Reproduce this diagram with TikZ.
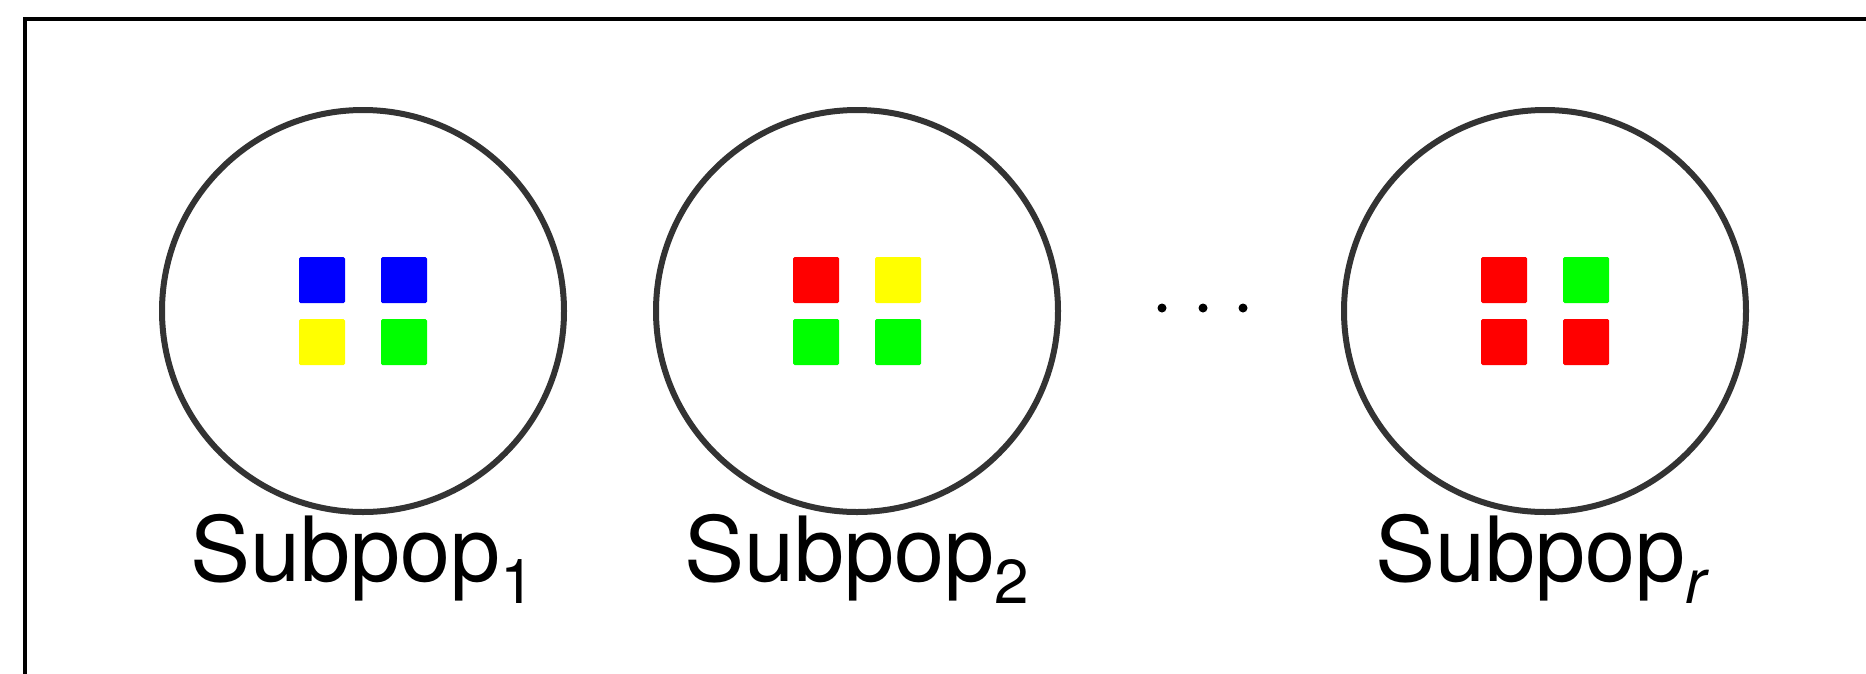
\documentclass[tikz,border=0pt]{standalone}
\usepackage{fontspec}
\setmainfont{TeX Gyre Heros}
\definecolor{ringgray}{HTML}{333333}
\definecolor{cblue}{RGB}{0,0,255}
\definecolor{cyellow}{RGB}{255,255,0}
\definecolor{cgreen}{RGB}{0,255,0}
\definecolor{cred}{RGB}{255,0,0}
\newcommand{\subsc}[1]{\raisebox{-22pt}{\fontsize{62}{70}\selectfont #1}}
\tikzset{
  ring/.style={circle, draw=ringgray, line width=6pt, minimum size=402pt, inner sep=0pt},
  cell/.style={rectangle, rounded corners=1.5pt, minimum size=46pt, inner sep=0pt, draw=none},
  poplabel/.style={anchor=base west, inner sep=0pt, font=\fontsize{90}{100}\selectfont},
  dot/.style={circle, fill=black, minimum size=9pt, inner sep=0pt},
  frame/.style={draw=black, line width=4pt}
}
\begin{document}
\begin{tikzpicture}[x=1pt,y=-1pt]
\path[use as bounding box, clip] (0,0) rectangle (1866,673);
\fill[white] (0,0) rectangle (1866,673);
\coordinate (fbl) at (24.5,700);
\coordinate (ftl) at (24.5,18.5);
\coordinate (ftr) at (1900,18.5);
\draw[frame] (fbl) -- (ftl) -- (ftr);

% subpopulation 1
\node[ring] (c1) at (363,311) {};
\node[cell, fill=cblue]   (c1a) at (322,280) {};
\node[cell, fill=cblue]   (c1b) at (404,280) {};
\node[cell, fill=cyellow] (c1c) at (322,342) {};
\node[cell, fill=cgreen]  (c1d) at (404,342) {};
\node[poplabel] (l1) at (190,581) {Subpop\subsc{1}};

% subpopulation 2
\node[ring] (c2) at (857,311) {};
\node[cell, fill=cred]    (c2a) at (816,280) {};
\node[cell, fill=cyellow] (c2b) at (898,280) {};
\node[cell, fill=cgreen]  (c2c) at (816,342) {};
\node[cell, fill=cgreen]  (c2d) at (898,342) {};
\node[poplabel] (l2) at (684,581) {Subpop\subsc{2}};

% dots
\node[dot] (d1) at (1162,308) {};
\node[dot] (d2) at (1203,308) {};
\node[dot] (d3) at (1243,308) {};

% subpopulation r
\node[ring] (c3) at (1545,311) {};
\node[cell, fill=cred]   (c3a) at (1504,280) {};
\node[cell, fill=cgreen] (c3b) at (1586,280) {};
\node[cell, fill=cred]   (c3c) at (1504,342) {};
\node[cell, fill=cred]   (c3d) at (1586,342) {};
\node[poplabel] (l3) at (1375,581) {Subpop\subsc{\itshape r}};
\end{tikzpicture}
\end{document}
